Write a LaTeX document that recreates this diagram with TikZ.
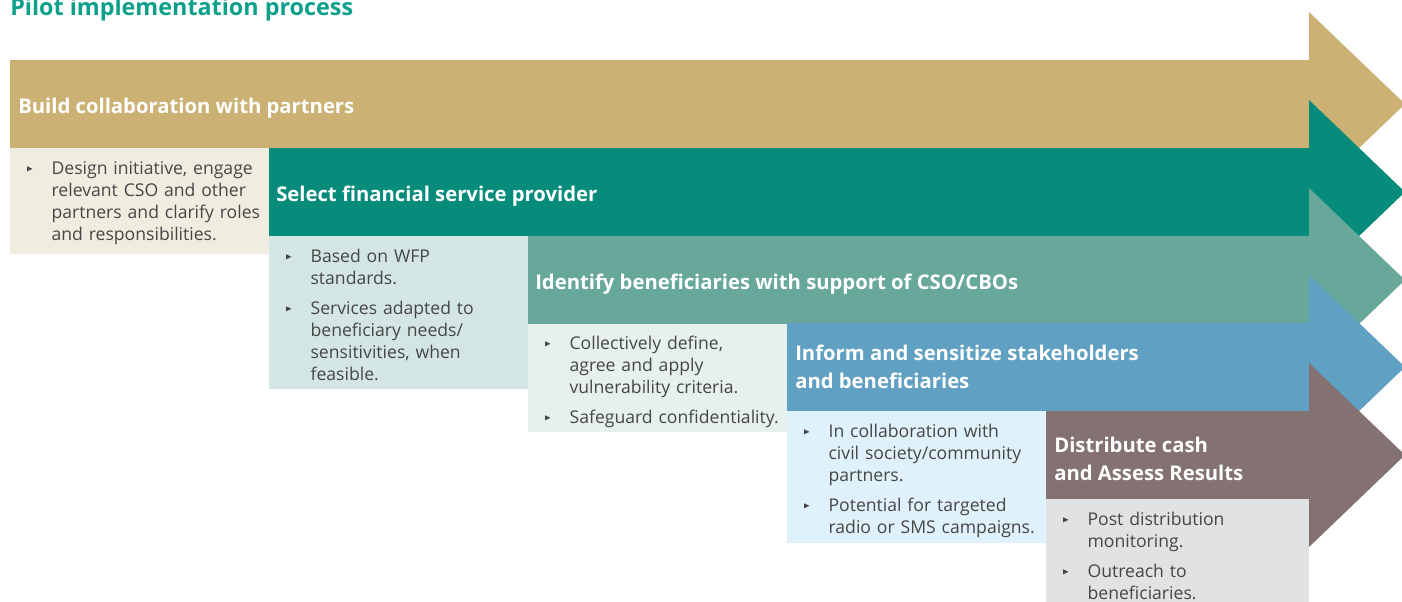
\documentclass[tikz,border=0pt]{standalone}
\usepackage{amssymb}
\usepackage{fontspec}
\setmainfont{Open Sans}
\usepackage{tikz}
\usepackage{xcolor}

\definecolor{tanband}{HTML}{CBB173}
\definecolor{tealband}{HTML}{078C7C}
\definecolor{seaband}{HTML}{68A89B}
\definecolor{blueband}{HTML}{60A0C2}
\definecolor{brownband}{HTML}{837271}
\definecolor{tanbox}{HTML}{F0EDE0}
\definecolor{tealbox}{HTML}{D3E6E4}
\definecolor{seabox}{HTML}{E6F1EE}
\definecolor{bluebox}{HTML}{DFF1FA}
\definecolor{greybox}{HTML}{E1E2E4}
\definecolor{bodytext}{HTML}{464646}
\definecolor{titlegreen}{HTML}{0BA08A}

\newcommand{\stepitem}[1]{\hangindent=19pt\hangafter=1\noindent
  \makebox[19pt][l]{\raisebox{0.25ex}{\scalebox{0.5}{$\blacktriangleright$}}}#1\par\vskip 6pt}

\begin{document}
\begin{tikzpicture}[x=0.75pt,y=-0.75pt,
    bandhead/.style={anchor=west,inner sep=0pt,align=left,text=white,
      font=\bfseries\fontsize{15.2}{21}\selectfont},
    itemtext/.style={anchor=base west,inner sep=0pt,text width=194pt,align=left,
      text=bodytext,font=\fontsize{13.2}{16.5}\selectfont}]
    \path[use as bounding box,clip] (0,0) rectangle (1402,601);

    \node[anchor=base west,inner sep=0pt,text=titlegreen,
      font=\bfseries\fontsize{17.5}{20}\selectfont] (title) at (10,15) {Pilot implementation process};

    % the five arrows, each one over the head of the one before
    \foreach \bx/\by/\col in {10/60/tanband,269/148/tealband,528/236/seaband,787/323/blueband,1046/411/brownband}
        \fill[\col] (\bx,\by) -- (1309,\by) -- (1309,\by-48) -- (1405,\by+44)
            -- (1309,\by+136) -- (1309,\by+88) -- (\bx,\by+88) -- cycle;

    % boxes under the arrows
    \fill[tanbox] (10,148) rectangle (269,254);
    \fill[tealbox] (269,236) rectangle (528,389);
    \fill[seabox] (528,324) rectangle (787,432);
    \fill[bluebox] (787,411) rectangle (1046,543);
    \fill[greybox] (1046,499) rectangle (1309,610);

    \node[bandhead] (buildhead) at (18,108) {Build collaboration with partners};
    \node[bandhead] (selecthead) at (276,196) {Select financial service provider};
    \node[bandhead] (identifyhead) at (535,284) {Identify beneficiaries with support of CSO/CBOs};
    \node[bandhead] (informhead) at (795,367) {Inform and sensitize stakeholders\\and beneficiaries};
    \node[bandhead] (distributehead) at (1054,459) {Distribute cash\\and Assess Results};

    \node[itemtext] (buildtext) at (26,174) {\stepitem{Design initiative, engage\newline relevant CSO and other\newline partners and clarify roles\newline and responsibilities.}};
    \node[itemtext] (selecttext) at (285,262) {\stepitem{Based on WFP\newline standards.}\stepitem{Services adapted to\newline beneficiary needs/\newline sensitivities, when\newline feasible.}};
    \node[itemtext] (identifytext) at (544,349) {\stepitem{Collectively define,\newline agree and apply\newline vulnerability criteria.}\stepitem{Safeguard confidentiality.}};
    \node[itemtext] (informtext) at (803,437) {\stepitem{In collaboration with\newline civil society/community\newline partners.}\stepitem{Potential for targeted\newline radio or SMS campaigns.}};
    \node[itemtext] (distributetext) at (1062,525) {\stepitem{Post distribution\newline monitoring.}\stepitem{Outreach to\newline beneficiaries.}};
\end{tikzpicture}
\end{document}
